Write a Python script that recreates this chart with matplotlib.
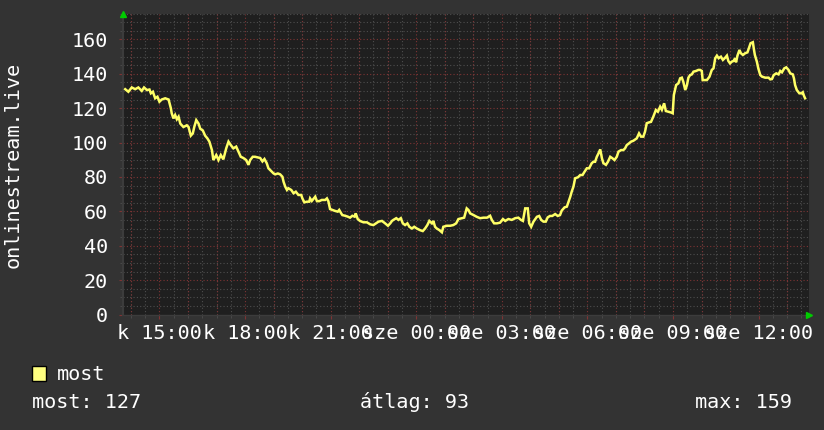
import matplotlib
matplotlib.use("Agg")
import matplotlib.pyplot as plt
from matplotlib.ticker import MultipleLocator

# ---- data (hours since Tuesday 00:00, viewers) ----
hours = [13.80, 13.91, 14.03, 14.15, 14.26, 14.38, 14.46, 14.56, 14.65, 14.70, 14.77, 14.85, 14.93,
         15.00, 15.08, 15.20, 15.32, 15.40, 15.43, 15.49, 15.55, 15.61, 15.67, 15.73, 15.84, 15.96,
         16.02, 16.10, 16.17, 16.22, 16.29, 16.37, 16.43, 16.52, 16.60, 16.68, 16.75, 16.84, 16.89,
         16.99, 17.07, 17.15, 17.24, 17.34, 17.42, 17.50, 17.59, 17.69, 17.77, 17.85, 17.94, 18.04,
         18.12, 18.18, 18.27, 18.35, 18.53, 18.61, 18.68, 18.76, 18.82, 18.88, 18.94, 19.00, 19.06,
         19.15, 19.23, 19.31, 19.35, 19.41, 19.47, 19.52, 19.62, 19.70, 19.78, 19.87, 19.97, 20.01,
         20.08, 20.17, 20.25, 20.28, 20.34, 20.46, 20.52, 20.60, 20.69, 20.81, 20.87, 20.92, 20.98,
         21.06, 21.16, 21.25, 21.30, 21.37, 21.41, 21.51, 21.60, 21.68, 21.76, 21.84, 21.88, 21.95,
         22.03, 22.15, 22.27, 22.39, 22.50, 22.59, 22.68, 22.80, 22.91, 23.01, 23.09, 23.15, 23.20,
         23.30, 23.38, 23.46, 23.53, 23.61, 23.69, 23.76, 23.85, 23.93, 24.02, 24.14, 24.23, 24.31,
         24.39, 24.46, 24.55, 24.60, 24.66, 24.72, 24.81, 24.90, 24.95, 25.07, 25.19, 25.30, 25.40,
         25.48, 25.60, 25.68, 25.77, 25.83, 25.89, 26.01, 26.12, 26.24, 26.36, 26.48, 26.59, 26.65,
         26.73, 26.83, 26.94, 27.04, 27.12, 27.23, 27.35, 27.47, 27.58, 27.67, 27.74, 27.82, 27.91,
         27.96, 28.03, 28.11, 28.23, 28.31, 28.38, 28.46, 28.54, 28.61, 28.69, 28.77, 28.87, 28.96,
         29.04, 29.10, 29.20, 29.28, 29.34, 29.40, 29.45, 29.51, 29.57, 29.67, 29.75, 29.83, 29.90,
         29.98, 30.06, 30.15, 30.21, 30.27, 30.33, 30.39, 30.45, 30.51, 30.56, 30.65, 30.72, 30.80,
         30.88, 30.95, 31.03, 31.09, 31.18, 31.26, 31.32, 31.38, 31.46, 31.53, 31.61, 31.73, 31.81,
         31.88, 31.96, 32.02, 32.08, 32.16, 32.23, 32.31, 32.40, 32.47, 32.55, 32.61, 32.69, 32.75,
         32.84, 32.92, 32.99, 33.03, 33.11, 33.19, 33.25, 33.31, 33.36, 33.43, 33.49, 33.54, 33.60,
         33.66, 33.72, 33.81, 33.89, 33.95, 34.01, 34.04, 34.13, 34.19, 34.28, 34.36, 34.42, 34.48,
         34.54, 34.60, 34.68, 34.75, 34.83, 34.89, 34.94, 35.00, 35.06, 35.12, 35.18, 35.21, 35.26,
         35.33, 35.38, 35.45, 35.53, 35.61, 35.68, 35.72, 35.80, 35.84, 35.87, 35.94, 35.99, 36.06,
         36.12, 36.23, 36.35, 36.41, 36.47, 36.53, 36.62, 36.70, 36.76, 36.82, 36.90, 36.97, 37.05,
         37.11, 37.20, 37.24, 37.28, 37.34, 37.43, 37.51, 37.55, 37.59, 37.63]
viewers = [131, 129.5, 132, 131, 132, 130, 132, 130.5, 130.8, 128.6, 129.5, 125.7, 126.6,
           123.7, 125, 125.7, 125, 119.9, 117, 114, 116, 113.5, 115, 111, 109, 110,
           109, 104, 105.3, 109, 113, 111, 108, 107, 104, 102.4, 100.5, 95.6, 89.8,
           92.7, 89.8, 92.7, 90.2, 96.6, 100.5, 98.5, 96.6, 97.6, 94.7, 91.7, 91, 89.8,
           87, 89.8, 91.7, 91.7, 91, 89, 90.4, 88, 85, 84, 83, 82, 81.5,
           82, 81.5, 80.1, 77.2, 74.3, 72.4, 73.4, 72.4, 70.5, 71.4, 69.5, 69.5, 67.5,
           65.2, 65.6, 65.6, 67.5, 66, 68.5, 65.9, 65.9, 66.6, 66.6, 67.5, 65.9, 61.3,
           60.8, 60.2, 59.8, 60.8, 58.8, 57.8, 57.4, 56.9, 56.3, 57.4, 56.9, 58.8, 55.5,
           54.4, 53.6, 53.6, 52.4, 52, 53, 54, 54.4, 53, 51.6, 53, 54.4, 55,
           56, 55, 56, 53, 52, 53, 51, 50, 51, 50, 49, 48.5, 50,
           52, 54.4, 53, 54.4, 51, 50, 49.1, 47.8, 51, 51.6, 51.6, 52, 53,
           55.5, 56, 56.3, 61.7, 60.8, 58.8, 57.8, 56.8, 56, 56.3, 56.3, 57.4, 55,
           53, 53, 53.4, 55.5, 54.4, 55.5, 55, 56, 56.3, 55, 54.4, 61.7, 61.7,
           53, 51, 54, 56.8, 57.3, 55, 54, 54, 56.5, 57.3, 57.3, 58.4, 57.3,
           57.8, 60.4, 62.3, 62.7, 65.6, 68.5, 71.4, 74.3, 79.2, 79.8, 81.1, 81.1, 83,
           85, 85, 87.9, 88.8, 88.8, 91.7, 93.7, 96, 90.8, 88, 87, 88.8, 91.7,
           90.8, 89.8, 91.7, 94.7, 95.6, 95.6, 96.6, 98.5, 99.5, 100.5, 101, 102.4, 105.3,
           103.4, 103.4, 106.3, 111.2, 111.7, 112, 115, 118.9, 117.9, 120.8, 119, 122.8, 118.3,
           117.9, 117.5, 117, 127.6, 133.4, 134.4, 137.3, 137.7, 135.4, 130.5, 133.4, 137.7, 139.2,
           139.6, 141.2, 141.6, 142.2, 142.2, 141.6, 136.3, 136.3, 136.3, 138.3, 142.2, 143.1, 149,
           150.5, 149, 149.9, 148, 149.3, 150.5, 147.4, 146, 147, 147.4, 149, 146.6, 150.5,
           153.8, 151.9, 150.9, 151.9, 152.4, 155.7, 157.7, 158.3, 153.8, 150.9, 147, 143.1, 139.2,
           138.3, 137.7, 137.7, 136.7, 136.9, 139.2, 140.2, 139.6, 141.6, 140.8, 143.1, 143.7, 142.2,
           140.2, 139.6, 137.3, 133.4, 130.5, 128.6, 128.6, 129.2, 127.2, 125.7]

x_tick_hours = [15, 18, 21, 24, 27, 30, 33, 36]
x_tick_labels = ["k 15:00", "k 18:00", "k 21:00", "sze 00:00", "sze 03:00",
                 "sze 06:00", "sze 09:00", "sze 12:00"]
y_ticks = [0, 20, 40, 60, 80, 100, 120, 140, 160]
y_label = "onlinestream.live"
series_name = "most"
stat_labels = ["most: 127", "átlag: 93", "max: 159"]

# ---- style ----
W, H = 824, 430
BG = "#333333"
PLOT_BG = "#1f1f1f"
MINOR = "#4e4e4e"
MAJOR = "#7e3434"
LINE = "#ffff66"
FONT = "DejaVu Sans Mono"
FS = 14.5

fig = plt.figure(figsize=(W / 100, H / 100), dpi=100, facecolor=BG)

def fx(px):
    return px / W

def fy(py):
    return 1 - py / H

left, right, top, bottom = 123.5, 808.5, 13.5, 314.5
ax = fig.add_axes([fx(left), fy(bottom), (right - left) / W, (bottom - top) / H])
ax.set_facecolor(PLOT_BG)

ax.set_xlim(13.74, 37.75)
ax.set_ylim(0, 175)

# grid
ax.xaxis.set_minor_locator(MultipleLocator(0.5))
ax.yaxis.set_minor_locator(MultipleLocator(5))
ax.grid(which="minor", color=MINOR, linestyle=(0, (1, 2)), linewidth=0.8)
ax.set_axisbelow(True)
hour_lines = [h for h in range(14, 38)]
for h in hour_lines:
    ax.axvline(h, color=MAJOR, linestyle=(0, (1, 2)), linewidth=0.8, zorder=1)
for v in y_ticks[1:]:
    ax.axhline(v, color=MAJOR, linestyle=(0, (1, 2)), linewidth=0.8, zorder=1)

ax.plot(hours, viewers, color=LINE, linewidth=1.8, zorder=3, solid_joinstyle="miter")

ax.set_xticks(x_tick_hours)
ax.set_xticklabels(x_tick_labels)
ax.set_yticks(y_ticks)
ax.set_yticklabels([str(v) for v in y_ticks])
for lab in ax.get_xticklabels() + ax.get_yticklabels():
    lab.set_fontfamily(FONT)
    lab.set_fontsize(FS)
    lab.set_color("white")
ax.tick_params(axis="x", which="major", length=3, color=MAJOR, pad=4)
ax.tick_params(axis="y", which="major", length=3, color=MAJOR, pad=8)
ax.tick_params(which="minor", length=2, color=MINOR)

for s in ["top", "right"]:
    ax.spines[s].set_visible(False)
ax.spines["left"].set_color("#3c3c3c")
ax.spines["bottom"].set_color("#3c3c3c")
ax.spines["left"].set_linewidth(1.5)
ax.spines["bottom"].set_linewidth(1.0)

# arrows
ax.plot([0.0], [1.0], marker="^", color="#00cc00", markersize=5, transform=ax.transAxes, clip_on=False, zorder=5)
ax.plot([1.0], [0.0], marker=">", color="#00cc00", markersize=5, transform=ax.transAxes, clip_on=False, zorder=5)

# y label
fig.text(fx(13), fy(165), y_label, rotation=90, ha="center", va="center",
         color="white", fontfamily=FONT, fontsize=FS)

# legend
fig.patches.append(plt.Rectangle((fx(32), fy(381)), 14 / W, 15 / H, transform=fig.transFigure,
                                 facecolor="#ffff80", edgecolor="black", linewidth=1))
fig.text(fx(57), fy(374), series_name, ha="left", va="center", color="white",
         fontfamily=FONT, fontsize=FS)
fig.text(fx(32), fy(402), stat_labels[0], ha="left", va="center", color="white",
         fontfamily=FONT, fontsize=FS)
fig.text(fx(360), fy(402), stat_labels[1], ha="left", va="center", color="white",
         fontfamily=FONT, fontsize=FS)
fig.text(fx(792), fy(402), stat_labels[2], ha="right", va="center", color="white",
         fontfamily=FONT, fontsize=FS)

fig.savefig("out.png", dpi=100, facecolor=BG)
